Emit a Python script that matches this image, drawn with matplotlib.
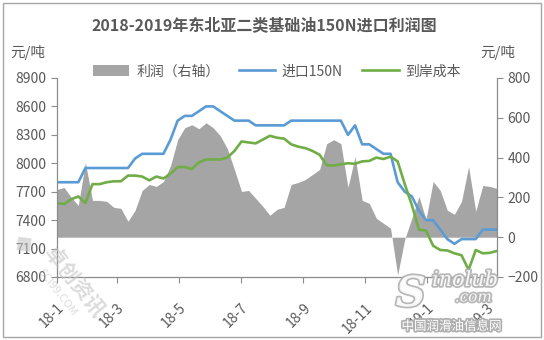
import matplotlib
matplotlib.use("Agg")
import matplotlib.pyplot as plt
import matplotlib.patheffects as pe
import pandas as pd
from matplotlib.patches import FancyBboxPatch

plt.rcParams['font.family'] = ['Noto Sans CJK SC', 'DejaVu Sans']

# weekly observations, Jan 2018 - Mar 2019
dates = pd.date_range('2018-01-01', periods=63, freq='7D')

import_150n = [7800, 7800, 7800, 7800, 7950, 7950, 7950, 7950, 7950, 7950,
               7950, 8050, 8100, 8100, 8100, 8100, 8250, 8450, 8500, 8500,
               8550, 8600, 8600, 8550, 8500, 8450, 8450, 8450, 8400, 8400,
               8400, 8400, 8400, 8450, 8450, 8450, 8450, 8450, 8450, 8450,
               8450, 8300, 8400, 8200, 8200, 8150, 8100, 8100, 7800, 7700,
               7650, 7500, 7400, 7400, 7300, 7200, 7150, 7200, 7200, 7200,
               7300, 7300, 7300]

landed_cost = [7580, 7570, 7620, 7650, 7580, 7780, 7780, 7800, 7810, 7810,
               7870, 7870, 7860, 7820, 7860, 7840, 7890, 7960, 7960, 7940,
               8010, 8040, 8040, 8040, 8060, 8130, 8230, 8220, 8210, 8250,
               8290, 8270, 8260, 8200, 8175, 8160, 8130, 8090, 7980, 7975,
               7990, 8000, 7995, 8020, 8025, 8060, 8045, 8070, 8020, 7780,
               7560, 7300, 7290, 7130, 7085, 7080, 7050, 7030, 6875, 7085,
               7050, 7055, 7075]

profit = [240, 250, 200, 160, 375, 185, 185, 180, 150, 145,
          80, 135, 235, 265, 255, 280, 360, 490, 550, 565,
          545, 575, 550, 510, 445, 340, 230, 235, 195, 155,
          110, 140, 150, 265, 275, 290, 315, 340, 470, 490,
          470, 250, 405, 185, 170, 95, 70, 45, -190, -10,
          95, 205, 90, 280, 235, 135, 115, 180, 355, 130,
          260, 255, 245]

tick_dates = pd.to_datetime(['2018-01-01', '2018-03-01', '2018-05-01', '2018-07-01',
                             '2018-09-01', '2018-11-01', '2019-01-01', '2019-03-01'])
tick_labels = ['18-1', '18-3', '18-5', '18-7', '18-9', '18-11', '19-1', '19-3']

TXT = '#595959'
AX = '#8c8c8c'

fig = plt.figure(figsize=(5.44, 3.4), dpi=100)
fig.patches.append(FancyBboxPatch((0.006, 0.01), 0.988, 0.98, boxstyle='square,pad=0',
                                  transform=fig.transFigure, fill=False,
                                  edgecolor='#a6a6a6', linewidth=1.0))

ax = fig.add_axes([0.1048, 0.1853, 0.8088, 0.5853])
ax2 = ax.twinx()

area = ax2.fill_between(dates, 0, profit, color='#a5a5a5', linewidth=0,
                        label='利润（右轴）')
l1, = ax.plot(dates, import_150n, color='#5b9bd5', lw=1.9, label='进口150N')
l2, = ax.plot(dates, landed_cost, color='#70ad47', lw=1.9, label='到岸成本')

ax.set_zorder(ax2.get_zorder() + 1)
ax.patch.set_visible(False)

ax.set_ylim(6800, 8900)
ax.set_yticks(range(6800, 8901, 300))
ax2.set_ylim(-200, 800)
ax2.set_yticks(range(-200, 801, 200))
ax.set_xlim(dates[0], dates[-1])
ax.set_xticks(tick_dates)
ax.set_xticklabels(tick_labels, rotation=45, ha='right', rotation_mode='anchor')

for a in (ax, ax2):
    a.spines['top'].set_visible(False)
    for s in ('left', 'right', 'bottom'):
        a.spines[s].set_color(AX)
        a.spines[s].set_linewidth(0.9)
    a.tick_params(colors=AX, labelcolor=TXT, labelsize=10, length=4, width=0.8)
ax.spines['right'].set_visible(False)
ax2.spines['left'].set_visible(False)
ax2.spines['bottom'].set_visible(False)
ax.tick_params(axis='x', pad=13)

fig.text(0.485, 0.925, '2018-2019年东北亚二类基础油150N进口利润图', ha='center',
         va='center', fontsize=11.5, fontweight='bold', color=TXT)
fig.text(0.018, 0.845, '元/吨', ha='left', va='center', fontsize=10.5, color=TXT)
fig.text(0.882, 0.845, '元/吨', ha='left', va='center', fontsize=10.5, color=TXT)

ax.legend(handles=[area, l1, l2], loc='lower center', bbox_to_anchor=(0.5, 0.97),
          ncol=3, frameon=False, fontsize=10, labelcolor=TXT, handlelength=2.6,
          handleheight=0.8, columnspacing=1.4, handletextpad=0.5, borderaxespad=0)

# source watermarks
fig.text(0.135, 0.17, '卓创资讯', rotation=-52, ha='center', va='center',
         fontsize=15, fontweight='bold', color='#c4c4c4', alpha=0.6, zorder=10)
fig.text(0.105, 0.14, 'SCI99.COM', rotation=-52, ha='center', va='center',
         fontsize=8, color='#c4c4c4', alpha=0.6, zorder=10)
fig.text(0.04, 0.28, '◆', rotation=-52, ha='center', va='center',
         fontsize=14, color='#c4c4c4', alpha=0.6, zorder=10)

halo = [pe.withStroke(linewidth=2.5, foreground='#b0b0b0')]
fig.text(0.755, 0.135, 'S', ha='center', va='center', fontsize=30,
         fontweight='bold', style='italic', family='DejaVu Serif', color='white',
         path_effects=halo, zorder=10, alpha=0.9)
fig.text(0.855, 0.175, 'inolub', ha='center', va='center', fontsize=15,
         style='italic', family='DejaVu Serif', color='white',
         path_effects=halo, zorder=10, alpha=0.9)
fig.text(0.87, 0.125, '.com', ha='center', va='center', fontsize=11,
         style='italic', family='DejaVu Serif', color='white',
         path_effects=halo, zorder=10, alpha=0.9)
fig.text(0.83, 0.04, '中国润滑油信息网', ha='center', va='center', fontsize=9,
         color='white', path_effects=halo, zorder=10)

fig.savefig('out.png', dpi=100)
